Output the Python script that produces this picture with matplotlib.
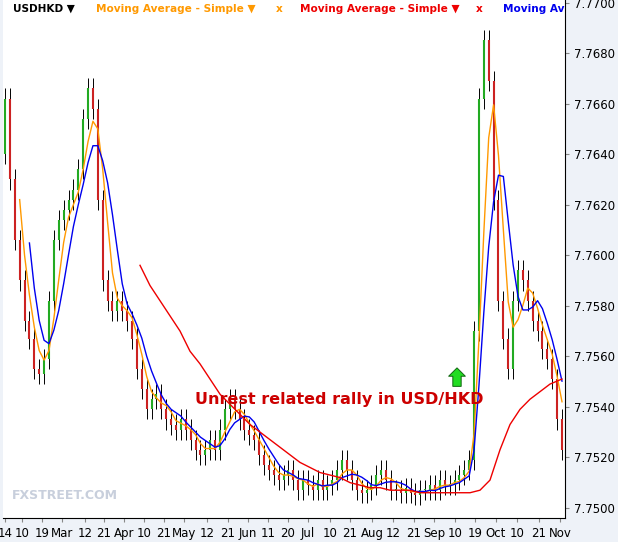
import matplotlib
matplotlib.use("Agg")
import matplotlib.pyplot as plt
import numpy as np
import pandas as pd

closes = [7.7662,7.7630,7.7606,7.7590,7.7574,7.7567,7.7555,7.7553,7.7559,7.7582,
7.7606,7.7614,7.7618,7.7622,7.7626,7.7634,7.7654,7.7666,7.7658,7.7622,
7.7590,7.7582,7.7578,7.7582,7.7578,7.7574,7.7567,7.7555,7.7547,7.7539,
7.7543,7.7545,7.7539,7.7535,7.7533,7.7531,7.7535,7.7531,7.7527,7.7523,
7.7521,7.7523,7.7527,7.7523,7.7531,7.7539,7.7543,7.7539,7.7535,7.7531,
7.7529,7.7527,7.7521,7.7517,7.7515,7.7513,7.7511,7.7513,7.7515,7.7511,
7.7507,7.7511,7.7509,7.7507,7.7511,7.7507,7.7509,7.7511,7.7515,7.7519,
7.7515,7.7511,7.7507,7.7506,7.7507,7.7509,7.7513,7.7515,7.7511,7.7507,
7.7507,7.7506,7.7508,7.7506,7.7505,7.7507,7.7507,7.7509,7.7507,7.7511,
7.7509,7.7509,7.7511,7.7513,7.7515,7.7519,7.7570,7.7662,7.7685,7.7669,
7.7622,7.7582,7.7567,7.7555,7.7582,7.7594,7.7590,7.7582,7.7574,7.7570,
7.7563,7.7559,7.7551,7.7535,7.7523]
opens = [7.7640] + closes[:-1]
slow_ma = [7.7596,7.7588,7.7582,7.7576,7.7570,7.7562,7.7557,7.7551,7.7545,7.7541,
7.7537,7.7533,7.7530,7.7527,7.7524,7.7521,7.7518,7.7516,7.7514,7.7513,
7.7512,7.7510,7.7509,7.7508,7.7508,7.7507,7.7507,7.7507,7.7506,7.7506,
7.7506,7.7506,7.7506,7.7506,7.7507,7.7511,7.7523,7.7533,7.7539,7.7543,
7.7546,7.7549,7.7551]
slow_px = list(range(140, 560, 10)) + [562]
x_labels = ["14","10","19","Mar","12","21","Apr","10","21","May","12","21","Jun","11","20",
            "Jul","10","21","Aug","12","21","Sep","10","19","Oct","10","21","Nov"]
x_label_px = [5,22,42,62,85,104,124,144,164,184,207,228,248,268,288,308,330,350,372,393,414,434,455,475,496,517,539,560]

N = len(closes)
def px2i(p):
    return (np.asarray(p) - 5) / (562 - 5) * (N - 1)

fig = plt.figure(figsize=(6.18, 5.42), dpi=100)
fig.patch.set_facecolor("#eef2f8")
ax = fig.add_axes([3/618, 24/542, 562/618, 518/542])
ax.set_facecolor("#ffffff")
idx = np.arange(N)
for i, (o, c) in enumerate(zip(opens, closes)):
    lo, hi = min(o, c), max(o, c)
    ax.vlines(i, lo - 0.0004, hi + 0.0004, color="black", lw=0.7)
    ax.vlines(i, lo, hi if hi > lo else lo + 0.00005, color="#22aa22" if c >= o else "#cc2222", lw=1.5)
s = pd.Series(closes)
ax.plot(idx, s.rolling(4).mean(), color="#ff9900", lw=1.0)
ax.plot(idx, s.rolling(6).mean(), color="#0000ee", lw=1.0)
ax.plot(px2i(slow_px), slow_ma, color="#ee0000", lw=1.0)

ax.set_xlim(px2i(3), px2i(565))
ax.set_ylim(7.7496, 7.7701)
ax.yaxis.tick_right()
yt = np.arange(7.7500, 7.77001, 0.0020)
ax.set_yticks(yt)
ax.set_yticklabels([f"{v:.4f}" for v in yt], fontsize=8.5)
ax.set_xticks(px2i(x_label_px))
ax.set_xticklabels(x_labels, fontsize=8.5)
ax.tick_params(length=3, color="#888888")
for sp in ["top", "left"]:
    ax.spines[sp].set_visible(False)

ax.text(px2i(195), 7.75428, "Unrest related rally in USD/HKD", color="#cc0000",
        fontsize=11.5, fontweight="bold", va="center")
ax.annotate("", xy=(px2i(457), 7.75565), xytext=(px2i(457), 7.7547),
            arrowprops=dict(arrowstyle="simple,head_width=1.2,head_length=0.6,tail_width=0.6",
                            fc="#22dd22", ec="#116611", lw=0.7))
ax.text(px2i(12), 7.75035, "FXSTREET.COM", color="#c8cfdc", fontsize=9, fontweight="bold")

y_leg = 1 - 9/518
for xp, txt, col in [(10, "USDHKD ▼", "black"), (93, "Moving Average - Simple ▼", "#ff9900"),
                     (273, "x", "#ff9900"), (297, "Moving Average - Simple ▼", "#ee0000"),
                     (473, "x", "#ee0000"), (500, "Moving Av", "#0000ee")]:
    ax.text(xp/562, y_leg, txt, color=col, fontsize=7.6, fontweight="bold",
            transform=ax.transAxes, va="center", clip_on=True)

fig.savefig("out.png", dpi=100, facecolor=fig.get_facecolor())
